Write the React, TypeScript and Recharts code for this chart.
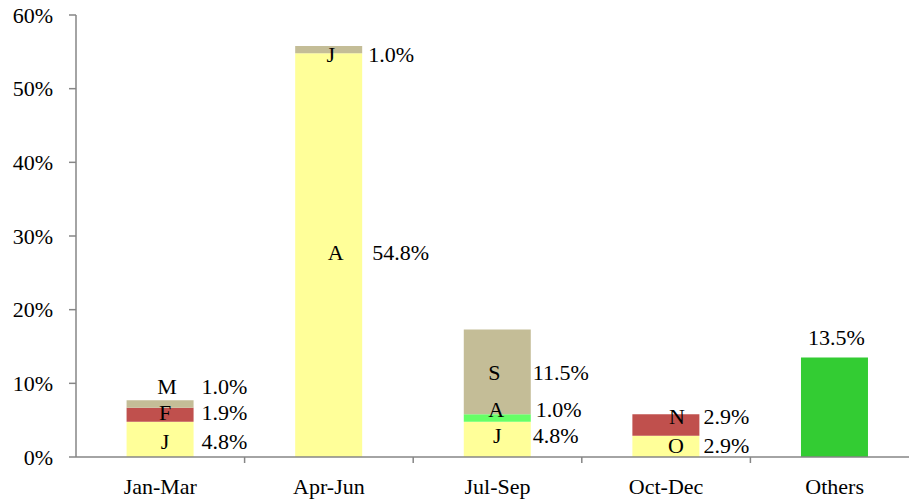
import { BarChart, Bar, XAxis, YAxis, Cell, LabelList } from 'recharts';

const categories = ['Jan-Mar', 'Apr-Jun', 'Jul-Sep', 'Oct-Dec', 'Others'];

// month share per quarter, stacked in month order
const firstMonth = [4.8, 54.8, 4.8, 2.9, 13.5];
const secondMonth = [1.9, 0, 1.0, 2.9, 0];
const thirdMonth = [1.0, 1.0, 11.5, 0, 0];

const firstLetters = ['J', 'A', 'J', 'O', ''];
const secondLetters = ['F', 'M', 'A', 'N', ''];
const thirdLetters = ['M', 'J', 'S', 'D', ''];

const yTicks = [0, 10, 20, 30, 40, 50, 60];

const YELLOW = '#FFFF99';
const RED = '#C0504D';
const TAN = '#C4BD97';
const LIME = '#66FF66';
const GREEN = '#33CC33';
const AXIS = '#868686';
const FONT = '"Liberation Serif", "Times New Roman", serif';

const firstColors = [YELLOW, YELLOW, YELLOW, YELLOW, GREEN];
const secondColors = [RED, RED, LIME, RED, RED];
const thirdColors = [TAN, TAN, TAN, TAN, TAN];

// label tweaks: [letter dx, value dx, dy] so small segments don't collide
const firstNudge = [[5, 8, 2], [7, 10, -3], [0, 2, -4], [10, 4, -1], [0, 0, 0]];
const secondNudge = [[5, 8, -2], [0, 0, 0], [-1, 5, -9], [11, 4, -9], [0, 0, 0]];
const thirdNudge = [[7, 8, -18], [2, 6, 5], [-3, 2, 0], [0, 0, 0], [0, 0, 0]];

const data = categories.map((name, i) => ({
  name,
  first: firstMonth[i],
  second: secondMonth[i],
  third: thirdMonth[i],
}));

const CHART_W = 925;
const CHART_H = 502;
const MARGIN = { top: 15, right: 6, left: 0, bottom: 0 };
const Y_AXIS_W = 76;
const X_AXIS_H = 45;
const PLOT_LEFT = MARGIN.left + Y_AXIS_W;
const band = (CHART_W - MARGIN.left - MARGIN.right - Y_AXIS_W) / categories.length;

function XTick(props: any) {
  const { x, y, payload } = props;
  return (
    <g>
      <line x1={x + band / 2} y1={y} x2={x + band / 2} y2={y + 6} stroke={AXIS} strokeWidth={1.5} />
      <text x={x} y={y + 37} textAnchor="middle" fontSize={22} fontFamily={FONT} fill="#000">
        {payload.value}
      </text>
    </g>
  );
}

function makeLabel(letters: string[], nudges: number[][], last: boolean) {
  return (props: any) => {
    const { x, y, width, height, value } = props;
    if (!value) return null;
    const cx = x + width / 2;
    const index = Math.floor((cx - PLOT_LEFT) / band);
    if (last && index === categories.length - 1) {
      return (
        <text x={cx + 2} y={y - 20} dy="0.35em" textAnchor="middle" fontSize={22} fontFamily={FONT} fill="#000">
          {value.toFixed(1)}%
        </text>
      );
    }
    const [ldx, vdx, dy] = nudges[index];
    const cy = y + height / 2 + dy;
    return (
      <g>
        <text x={cx + ldx} y={cy} dy="0.35em" textAnchor="middle" fontSize={22} fontFamily={FONT} fill="#000">
          {letters[index]}
        </text>
        <text x={x + width + vdx} y={cy} dy="0.35em" textAnchor="start" fontSize={22} fontFamily={FONT} fill="#000">
          {value.toFixed(1)}%
        </text>
      </g>
    );
  };
}

export default function App() {
  return (
    <div style={{ position: 'absolute', left: 0, top: 0, width: 909, height: 502, overflow: 'hidden', background: '#fff' }}>
      <BarChart width={CHART_W} height={CHART_H} data={data} margin={MARGIN} barCategoryGap="30%">
        <XAxis
          dataKey="name"
          height={X_AXIS_H}
          tickLine={false}
          tickSize={0}
          tickMargin={0}
          interval={0}
          axisLine={{ stroke: AXIS, strokeWidth: 1.5 }}
          tick={<XTick />}
        />
        <YAxis
          width={Y_AXIS_W}
          domain={[0, 60]}
          ticks={yTicks}
          tickFormatter={(v) => `${v}%`}
          tickSize={7}
          tickMargin={16}
          axisLine={{ stroke: AXIS, strokeWidth: 1.5 }}
          tickLine={{ stroke: AXIS, strokeWidth: 1.5 }}
          tick={{ fill: '#000', fontSize: 22, fontFamily: FONT }}
        />
        <Bar dataKey="first" stackId="q" isAnimationActive={false}>
          {data.map((d, i) => <Cell key={d.name} fill={firstColors[i]} />)}
          <LabelList dataKey="first" content={makeLabel(firstLetters, firstNudge, true)} />
        </Bar>
        <Bar dataKey="second" stackId="q" isAnimationActive={false}>
          {data.map((d, i) => <Cell key={d.name} fill={secondColors[i]} />)}
          <LabelList dataKey="second" content={makeLabel(secondLetters, secondNudge, false)} />
        </Bar>
        <Bar dataKey="third" stackId="q" isAnimationActive={false}>
          {data.map((d, i) => <Cell key={d.name} fill={thirdColors[i]} />)}
          <LabelList dataKey="third" content={makeLabel(thirdLetters, thirdNudge, false)} />
        </Bar>
      </BarChart>
    </div>
  );
}
